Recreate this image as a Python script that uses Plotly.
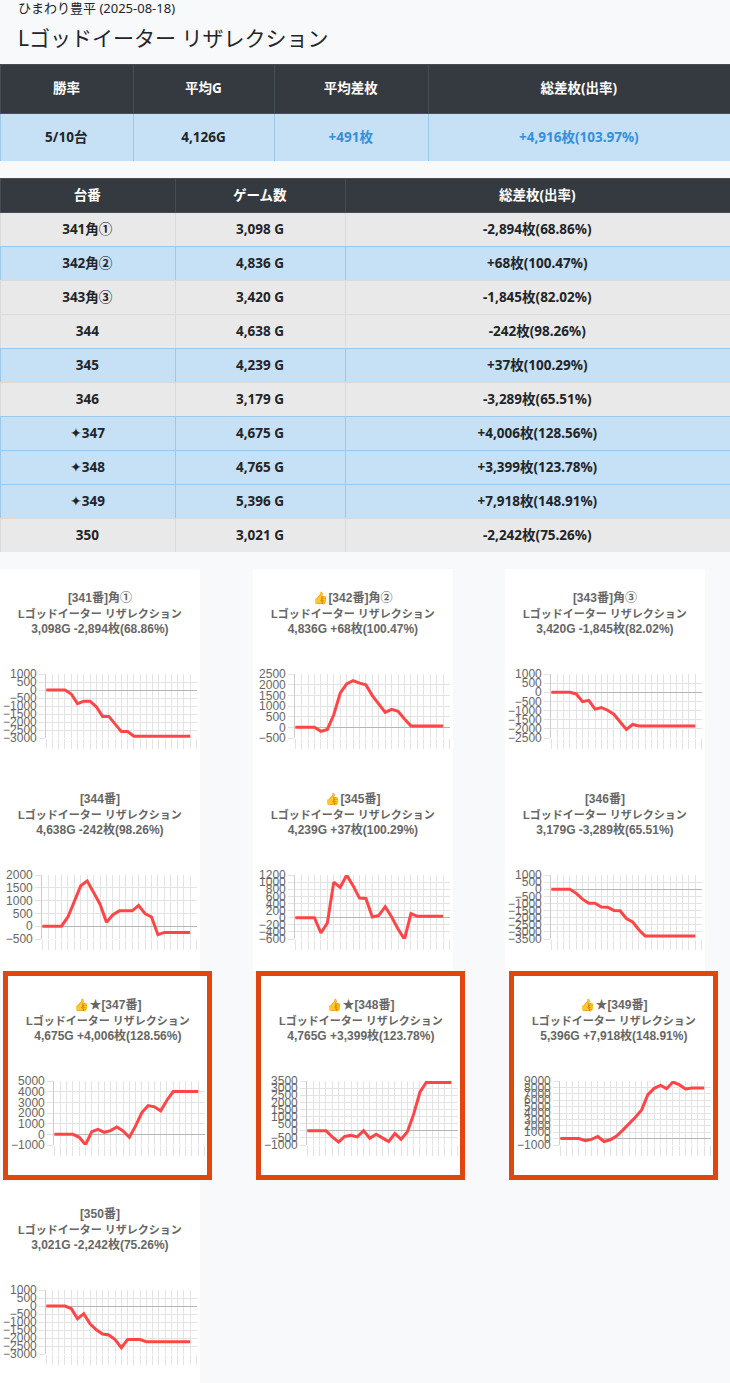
import plotly.graph_objects as go

W, H = 730, 1383

store = "ひまわり豊平 (2025-08-18)"
machine = "Lゴッドイーター リザレクション"

# machine data
units = [341, 342, 343, 344, 345, 346, 347, 348, 349, 350]
suffix = ["角①", "角②", "角③", "", "", "", "", "", "", ""]
featured = [False, False, False, False, False, False, True, True, True, False]
games = [3098, 4836, 3420, 4638, 4239, 3179, 4675, 4765, 5396, 3021]
diffs = [-2894, 68, -1845, -242, 37, -3289, 4006, 3399, 7918, -2242]
rates = [68.86, 100.47, 82.02, 98.26, 100.29, 65.51, 128.56, 123.78, 148.91, 75.26]
total_rate = 103.97

# slot history (25 hidden x labels, 24 points)
slots = list(range(25))
hist = {
    341: [0, 0, 0, 0, -250, -850, -700, -700, -1050, -1650, -1650, -2150, -2600, -2600,
          -2894, -2894, -2894, -2894, -2894, -2894, -2894, -2894, -2894, -2894],
    342: [0, 0, 0, 0, -190, -100, 590, 1600, 2040, 2190, 2070, 1990, 1490, 1100, 700, 840,
          750, 390, 68, 68, 68, 68, 68, 68],
    343: [0, 0, 0, 0, -90, -510, -440, -920, -830, -980, -1200, -1630, -2030, -1760,
          -1845, -1845, -1845, -1845, -1845, -1845, -1845, -1845, -1845, -1845],
    344: [0, 0, 0, 0, 360, 1000, 1580, 1770, 1320, 860, 150, 450, 600, 600, 600, 810, 490,
          360, -330, -242, -242, -242, -242, -242],
    345: [0, 0, 0, 0, -430, -150, 1000, 850, 1200, 900, 550, 540, 20, 60, 310, 20, -320,
          -610, 115, 37, 37, 37, 37, 37],
    346: [0, 0, 0, 0, -290, -700, -990, -990, -1250, -1270, -1490, -1510, -2060, -2300,
          -2850, -3289, -3289, -3289, -3289, -3289, -3289, -3289, -3289, -3289],
    347: [0, 0, 0, 0, -280, -970, 250, 470, 190, 350, 690, 320, -280, 790, 2040, 2700,
          2580, 2200, 3200, 4006, 4006, 4006, 4006, 4006],
    348: [0, 0, 0, 0, -430, -790, -400, -310, -430, 0, -520, -240, -500, -760, -190, -600,
          -70, 1170, 2710, 3399, 3399, 3399, 3399, 3399],
    349: [0, 0, 0, 0, -330, -120, 330, -450, -180, 400, 1330, 2300, 3340, 4480, 6870, 7850,
          8320, 7800, 8840, 8430, 7760, 7918, 7918, 7918],
    350: [0, 0, 0, 0, -160, -800, -480, -1110, -1490, -1750, -1810, -2100, -2610, -2100,
          -2100, -2100, -2242, -2242, -2242, -2242, -2242, -2242, -2242, -2242],
}
# y axis (min, max, step) per chart
yscale = {
    341: (-3000, 1000, 500), 342: (-500, 2500, 500), 343: (-2500, 1000, 500),
    344: (-500, 2000, 500), 345: (-600, 1200, 200), 346: (-3500, 1000, 500),
    347: (-1000, 5000, 1000), 348: (-1000, 3500, 500), 349: (-1000, 9000, 1000),
    350: (-3000, 1000, 500),
}


def px(x):
    return x / W


def py(y):
    return 1 - y / H


FONT = "Noto Sans, Noto Sans CJK JP"
CHART_FONT = "Liberation Sans, Noto Sans CJK JP"
DARK = "#343a40"
BLUE_ROW = "#c6e0f5"
GRAY_ROW = "#e9e9e9"
PLUS = "#3490dc"
CLEAR = "rgba(0,0,0,0)"

fig = go.Figure()

# summary table: fills first, then the text layer pushed down to sit mid-cell
n = len(units)
wins = sum(1 for d in diffs if d > 0)
avg_g = sum(games) // n
avg_d = int(sum(diffs) / n)
total_d = sum(diffs)
sum_head = ["<b>勝率</b>", "<b>平均G</b>", "<b>平均差枚</b>", "<b>総差枚(出率)</b>"]
sum_vals = [[f"<b>{wins}/{n}台</b>"], [f"<b>{avg_g:,}G</b>"],
            [f"<b>{avg_d:+,}枚</b>"], [f"<b>{total_d:+,}枚({total_rate:.2f}%)</b>"]]
sum_widths = [133, 141, 154, 302]
fig.add_trace(go.Table(
    domain=dict(x=[0, 1], y=[py(161), py(64)]),
    columnwidth=sum_widths,
    header=dict(values=[""] * 4, fill_color=DARK, line_color="#454d55", height=49),
    cells=dict(values=[[""]] * 4, fill_color=BLUE_ROW, line_color="#9cc8ec", height=48),
))
fig.add_trace(go.Table(
    domain=dict(x=[0, 1], y=[py(168), py(71)]),
    columnwidth=sum_widths,
    header=dict(values=sum_head, fill_color=CLEAR, line_color=CLEAR, height=49,
                font=dict(family=FONT, size=13.5, color="white"), align="center"),
    cells=dict(values=sum_vals, fill_color=CLEAR, line_color=CLEAR, height=48,
               align="center",
               font=dict(family=FONT, size=13.5,
                         color=["#212529", "#212529", PLUS, PLUS])),
))

# machine table
col_unit = [("✦" if f else "") + f"<b>{u}{s}</b>" for u, s, f in zip(units, suffix, featured)]
col_games = [f"<b>{g:,} G</b>" for g in games]
col_diff = [f"<b>{d:+,}枚({r:.2f}%)</b>" for d, r in zip(diffs, rates)]
row_fill = [BLUE_ROW if d > 0 else GRAY_ROW for d in diffs]
row_line = ["#9cc8ec" if d > 0 else "#dadada" for d in diffs]
fig.add_trace(go.Table(
    domain=dict(x=[0, 1], y=[py(553), py(178)]),
    columnwidth=[175, 170, 385],
    header=dict(values=["<b>台番</b>", "<b>ゲーム数</b>", "<b>総差枚(出率)</b>"],
                fill_color=DARK, line_color="#454d55", height=34,
                font=dict(family=FONT, size=13.5, color="white"), align="center"),
    cells=dict(values=[col_unit, col_games, col_diff],
               fill_color=[row_fill] * 3, line_color=[row_line] * 3, height=34,
               align="center", font=dict(family=FONT, size=13.5, color="#212529")),
))

# small charts
shapes = []
annotations = [
    dict(x=px(16), y=py(8), xref="paper", yref="paper", xanchor="left", yanchor="middle",
         text=store, showarrow=False, font=dict(family=FONT, size=13, color="#212529")),
    dict(x=px(16), y=py(38), xref="paper", yref="paper", xanchor="left", yanchor="middle",
         text=machine, showarrow=False, font=dict(family=FONT, size=21, color="#212529")),
]
panel_left = [0, 253, 505]
boxed_left = [8, 261, 514]
row_top = [569, 770, 976, 1185]

for c in range(3):
    shapes.append(dict(type="rect", xref="paper", yref="paper", x0=px(panel_left[c]),
                       x1=px(panel_left[c] + 200), y0=py(971), y1=py(569),
                       fillcolor="white", line_width=0, layer="below"))
shapes.append(dict(type="rect", xref="paper", yref="paper", x0=px(0), x1=px(200),
                   y0=py(1383), y1=py(1182), fillcolor="white", line_width=0, layer="below"))

for k, u in enumerate(units):
    r, c = divmod(k, 3)
    boxed = featured[k]
    pl = boxed_left[c] if boxed else panel_left[c]
    pt = row_top[r]
    if boxed:
        shapes.append(dict(type="rect", xref="paper", yref="paper",
                           x0=px(pl - 2.5), x1=px(pl + 201.5), y0=py(pt + 201.5), y1=py(pt - 2.5),
                           fillcolor="white", line=dict(color="#e0470e", width=5), layer="below"))
    lo, hi, step = yscale[u]
    labels = [str(v) for v in range(lo, hi + 1, step)]
    lw = max(6.67 * len(s.lstrip("-")) + (4 if s.startswith("-") else 0) for s in labels)
    x0, x1 = pl + 15.5 + lw, pl + 196.5
    y0, y1 = pt + 105, pt + 169
    ax = "" if k == 0 else str(k + 1)
    fig.add_trace(go.Scatter(x=slots[:len(hist[u])], y=hist[u], mode="lines",
                             line=dict(color="#ff4545", width=3), hoverinfo="skip",
                             xaxis="x" + ax, yaxis="y" + ax, showlegend=False))
    fig.update_layout(**{
        "xaxis" + ax: dict(domain=[px(x0), px(x1)], anchor="y" + ax, range=[0, 24],
                           tickvals=slots, showticklabels=False, showgrid=True,
                           gridcolor="#e3e3e3", ticks="outside", ticklen=10,
                           tickcolor="#e3e3e3", zeroline=False, fixedrange=True,
                           automargin=False),
        "yaxis" + ax: dict(domain=[py(y1), py(y0)], anchor="x" + ax, range=[lo, hi],
                           tick0=0, dtick=step, gridcolor="#e3e3e3", zeroline=True,
                           zerolinecolor="#b5b5b5", zerolinewidth=1, ticks="outside",
                           ticklen=6, tickcolor="#e3e3e3", showline=True, linecolor="#cccccc",
                           tickfont=dict(family=CHART_FONT, size=12, color="#666"),
                           fixedrange=True, automargin=False),
    })
    title = ("👍" if diffs[k] > 0 else "") + ("★" if boxed else "") + f"[{u}番]{suffix[k]}"
    sub = f"{games[k]:,}G {diffs[k]:+,}枚({rates[k]:.2f}%)"
    annotations.append(dict(x=px(pl + 100), y=py(pt + 44), xref="paper", yref="paper",
                            xanchor="center", yanchor="middle", showarrow=False,
                            text=(f"<b>{title}</b><br>"
                                  f"<span style='font-size:11px'><b>{machine}</b></span><br>"
                                  f"<b>{sub}</b>"),
                            font=dict(family=CHART_FONT, size=12, color="#666")))

fig.update_layout(
    width=W, height=H,
    margin=dict(l=0, r=0, t=0, b=0, autoexpand=False),
    paper_bgcolor="#f8f9fa",
    plot_bgcolor="white",
    showlegend=False,
    shapes=shapes,
    annotations=annotations,
)

fig.write_html("out.html", config={"displayModeBar": False},
               post_script="document.body.style.margin = '0px';")
